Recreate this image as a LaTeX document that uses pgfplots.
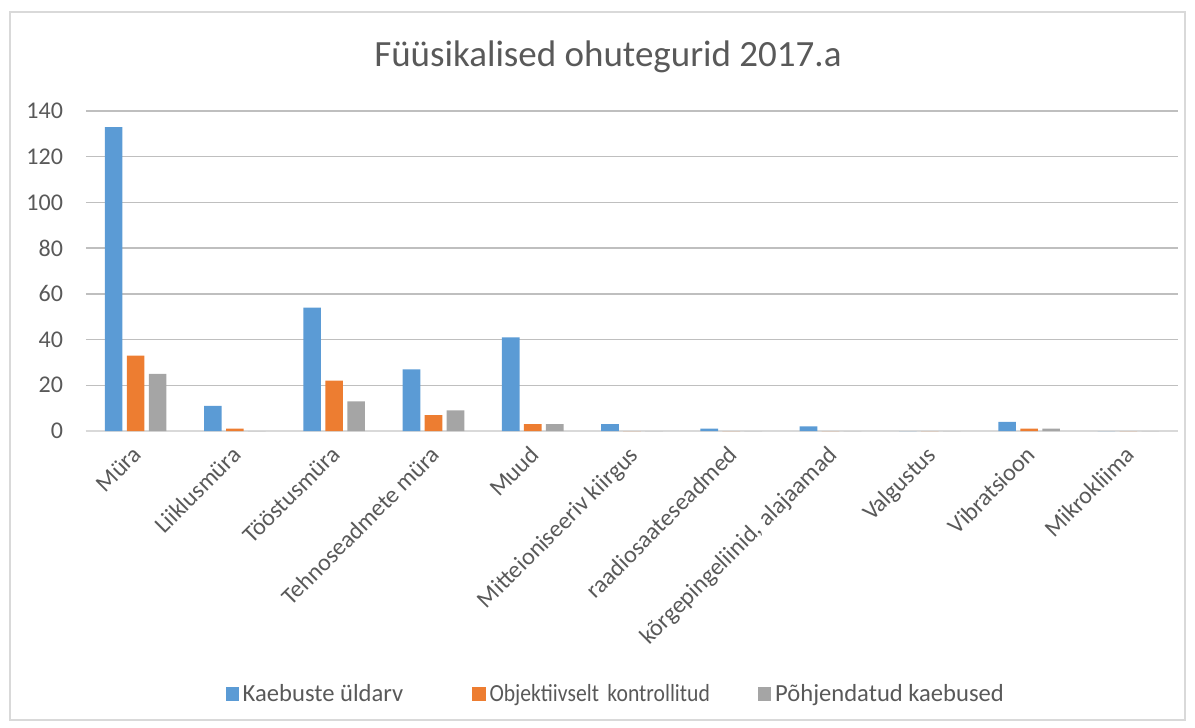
\documentclass[border=0pt]{standalone}
\usepackage{pgfplots}
\pgfplotsset{compat=1.18}
\usepackage{fontspec}
\setmainfont{Carlito}
\definecolor{cblue}{HTML}{5B9BD5}
\definecolor{corange}{HTML}{ED7D31}
\definecolor{cgray}{HTML}{A5A5A5}
\definecolor{grid}{HTML}{D9D9D9}
\definecolor{txt}{HTML}{595959}
\begin{document}
\begin{tikzpicture}
\useasboundingbox (0,0) rectangle (597.5pt,-364pt);
\draw[grid, line width=0.75pt] (5pt,-6pt) rectangle (592.5pt,-360pt);
\node[txt, font=\fontsize{18.5}{22}\selectfont] at (304pt,-28.5pt) {Füüsikalised ohutegurid 2017.a};
\begin{axis}[
  at={(43pt,-215.5pt)}, anchor=south west,
  scale only axis, width=546pt, height=160pt,
  ybar=2.2pt, bar width=8.8pt,
  xmin=-0.5, xmax=10.5, ymin=0, ymax=140,
  ytick={0,20,...,140},
  xtick={0,...,10},
  xticklabels={Müra,Liiklusmüra,Tööstusmüra,Tehnoseadmete müra,Muud,Mitteioniseeriv kiirgus,raadiosaateseadmed,{kõrgepingeliinid, alajaamad},Valgustus,Vibratsioon,Mikrokliima},
  xticklabel style={xshift=-2.1pt, yshift=-5.2pt, rotate=45, anchor=north east, font=\fontsize{12}{14}\selectfont, text=txt, inner sep=1pt},
  yticklabel style={font=\fontsize{12}{14}\selectfont, text=txt, xshift=-8pt},
  /pgf/number format/assume math mode=true,
  ymajorgrids, xmajorgrids=false, grid style={grid, line width=0.75pt},
  axis lines*=left,
  y axis line style={draw=none},
  x axis line style={grid, line width=0.75pt, -},
  tick style={draw=none},
  major tick length=0pt,
  legend columns=3,
  legend style={at={(0.486,-0.822)}, anchor=center, draw=none, fill=none,
    font=\fontsize{12.3}{14}\selectfont, text=txt,
    /tikz/column 2/.style={column sep=32.5pt},
    /tikz/column 4/.style={column sep=22pt}},
  legend image code/.code={\fill[#1] (0pt,-3.3pt) rectangle (6.6pt,3.3pt);},
]
\addplot[draw=none, fill=cblue] coordinates {(0,133) (1,11) (2,54) (3,27) (4,41) (5,3) (6,1) (7,2) (8,0) (9,4) (10,0)};
\addplot[draw=none, fill=corange] coordinates {(0,33) (1,1) (2,22) (3,7) (4,3) (5,0) (6,0) (7,0) (8,0) (9,1) (10,0)};
\addplot[draw=none, fill=cgray] coordinates {(0,25) (1,0) (2,13) (3,9) (4,3) (5,0) (6,0) (7,0) (8,0) (9,1) (10,0)};
\legend{Kaebuste üldarv, \scalebox{0.88}[1]{Objektiivselt\hspace{2pt} kontrollitud}, Põhjendatud kaebused}
\end{axis}
\end{tikzpicture}
\end{document}
